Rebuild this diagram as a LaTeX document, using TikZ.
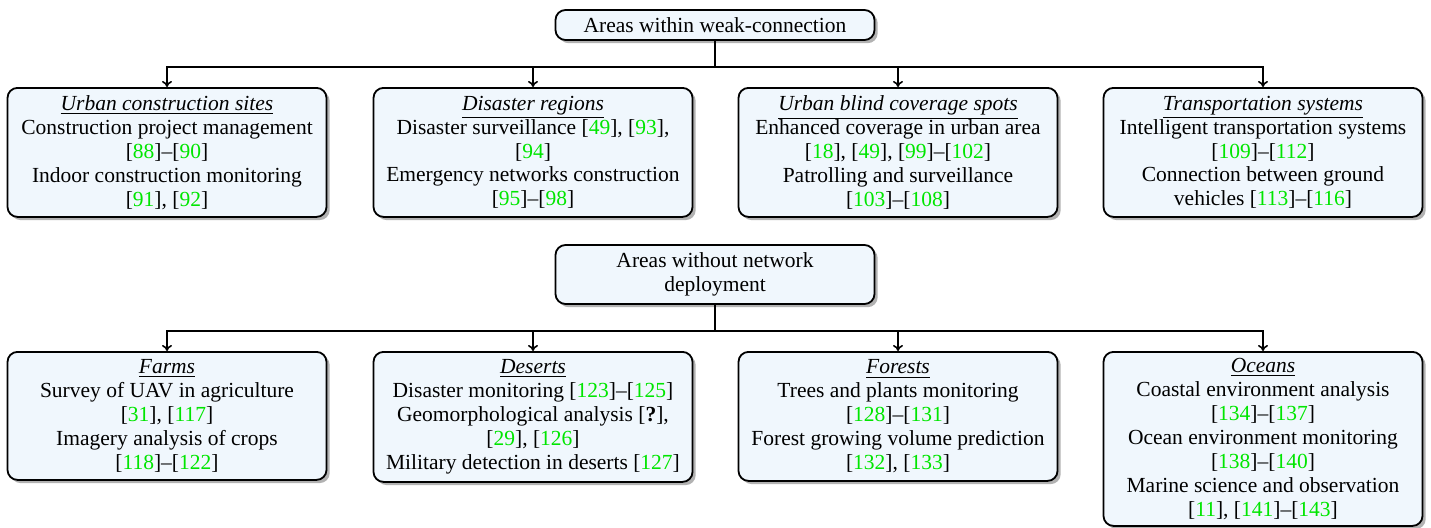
\documentclass[tikz,border=0pt]{standalone}
\usepackage{fontspec}
\setmainfont{Liberation Serif}[Ligatures=TeX]
\newfontfamily\timesfont{Liberation Serif}[Ligatures=TeX]
\usetikzlibrary{shadows,arrows.meta}
\definecolor{citegreen}{RGB}{0,230,0}
\definecolor{boxfill}{RGB}{240,247,253}
\newcommand\gref[1]{[\textcolor{citegreen}{#1}]}
\newcommand\ttl[1]{\underline{\textit{#1}}}
\tikzset{
  box/.style={draw=black, line width=0.9pt, rounded corners=5pt, fill=boxfill,
    align=center, minimum width=159.5pt, inner sep=2pt,
    font=\timesfont\fontsize{10.75pt}{11.95pt}\selectfont,
    drop shadow={shadow xshift=1.6pt, shadow yshift=-1.6pt, fill=black!30, opacity=1}},
  link/.style={line width=0.8pt},
  arr/.style={line width=0.8pt, -{To[length=3pt,width=5pt]}}
}
\begin{document}
\begin{tikzpicture}[x=0.5pt,y=-0.5pt]
\useasboundingbox (0,0) rectangle (1431,527);
% roots
\node[box, minimum height=15pt] (r1) at (715,25) {Areas within weak-connection};
\node[box, minimum height=29.5pt] (r2) at (715,274.5) {Areas without network\\deployment};
% top row
\node[box, anchor=north, minimum height=64.5pt] (a1) at (167,87) {\ttl{Urban construction sites}\\Construction project management\\\gref{88}–\gref{90}\\Indoor construction monitoring\\\gref{91}, \gref{92}};
\node[box, anchor=north, minimum height=64.5pt] (a2) at (533,87) {\ttl{Disaster regions}\\Disaster surveillance \gref{49}, \gref{93},\\\gref{94}\\Emergency networks construction\\\gref{95}–\gref{98}};
\node[box, anchor=north, minimum height=64.5pt] (a3) at (898,87) {\ttl{Urban blind coverage spots}\\Enhanced coverage in urban area\\\gref{18}, \gref{49}, \gref{99}–\gref{102}\\Patrolling and surveillance\\\gref{103}–\gref{108}};
\node[box, anchor=north, minimum height=64.5pt] (a4) at (1263,87) {\ttl{Transportation systems}\\Intelligent transportation systems\\\gref{109}–\gref{112}\\Connection between ground\\vehicles \gref{113}–\gref{116}};
% bottom row
\node[box, anchor=north, minimum height=64pt] (b1) at (167,351) {\ttl{Farms}\\Survey of UAV in agriculture\\\gref{31}, \gref{117}\\Imagery analysis of crops\\\gref{118}–\gref{122}};
\node[box, anchor=north, minimum height=65pt] (b2) at (533,351) {\ttl{Deserts}\\Disaster monitoring \gref{123}–\gref{125}\\Geomorphological analysis [\textbf{?}],\\\gref{29}, \gref{126}\\Military detection in deserts \gref{127}};
\node[box, anchor=north, minimum height=64.5pt] (b3) at (898,351) {\ttl{Forests}\\Trees and plants monitoring\\\gref{128}–\gref{131}\\Forest growing volume prediction\\\gref{132}, \gref{133}};
\node[box, anchor=north, minimum height=87pt] (b4) at (1263,351) {\ttl{Oceans}\\Coastal environment analysis\\\gref{134}–\gref{137}\\Ocean environment monitoring\\\gref{138}–\gref{140}\\Marine science and observation\\\gref{11}, \gref{141}–\gref{143}};
% connectors
\coordinate (bus1) at (715,67);
\coordinate (bus2) at (715,331);
\draw[link] (r1.south) -- (bus1);
\draw[arr] (bus1) -| (a1.north);
\draw[arr] (bus1) -| (a2.north);
\draw[arr] (bus1) -| (a3.north);
\draw[arr] (bus1) -| (a4.north);
\draw[link] (r2.south) -- (bus2);
\draw[arr] (bus2) -| (b1.north);
\draw[arr] (bus2) -| (b2.north);
\draw[arr] (bus2) -| (b3.north);
\draw[arr] (bus2) -| (b4.north);
\end{tikzpicture}
\end{document}
